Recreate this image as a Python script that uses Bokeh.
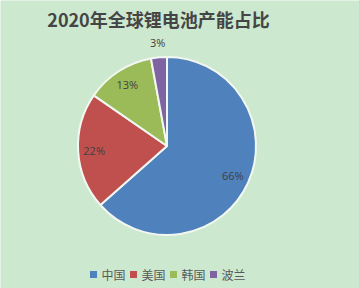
import math
from bokeh.plotting import figure
from bokeh.models import Range1d, ColumnDataSource
from bokeh.core.properties import value
from bokeh.embed import file_html
from bokeh.resources import INLINE

title_text = "2020年全球锂电池产能占比"
categories = ["中国", "美国", "韩国", "波兰"]
shares = [66, 22, 13, 3]
colors = ["#4F81BD", "#C0504D", "#9BBB59", "#8064A2"]
label_radius_factor = [0.81, 0.82, 0.82, 1.17]

W, H = 359, 288
BG = "#CCE8CF"
cx, cy, R = 166.5, 288 - 145.5, 89

p = figure(width=W, height=H, output_backend="svg", toolbar_location=None,
           x_range=Range1d(0, W), y_range=Range1d(0, H), min_border=0,
           background_fill_color=BG, border_fill_color=BG)
p.axis.visible = False
p.grid.visible = False
p.outline_line_color = None

total = sum(shares)
starts, ends, lx, ly, labels = [], [], [], [], []
cum = 0.0
for v, k in zip(shares, label_radius_factor):
    a0 = math.pi / 2 - cum / total * 2 * math.pi
    cum += v
    a1 = math.pi / 2 - cum / total * 2 * math.pi
    starts.append(a1)
    ends.append(a0)
    mid = (a0 + a1) / 2
    lx.append(cx + R * k * math.cos(mid))
    ly.append(cy + R * k * math.sin(mid))
    labels.append(f"{v}%")

src = ColumnDataSource(dict(start=starts, end=ends, color=colors, cat=categories))
p.wedge(x=cx, y=cy, radius=R, start_angle="start", end_angle="end",
        fill_color="color", line_color="#F2F7F2", line_width=2, source=src)

p.text(x=lx, y=ly, text=labels, text_align="center", text_baseline="middle",
       text_font=value("Open Sans"), text_font_size="11px", text_color="#404040")

p.text(x=[158], y=[H - 18], text=[title_text], text_align="center", text_baseline="middle",
       text_font=value("Noto Sans CJK SC"), text_font_style="bold",
       text_font_size="18px", text_color="#454545")

# legend
ly0 = H - 274
step = 40
x0 = 93
sq_x = [x0 + i * step for i in range(len(categories))]
p.scatter(x=sq_x, y=[ly0] * len(categories), marker="square", size=7,
          fill_color=colors, line_color=None)
p.text(x=[x + 8 for x in sq_x], y=[ly0] * len(categories), text=categories,
       text_align="left", text_baseline="middle",
       text_font=value("Noto Sans CJK SC"), text_font_size="12px", text_color="#595959")

open("out.html", "w").write(file_html(p, INLINE))
